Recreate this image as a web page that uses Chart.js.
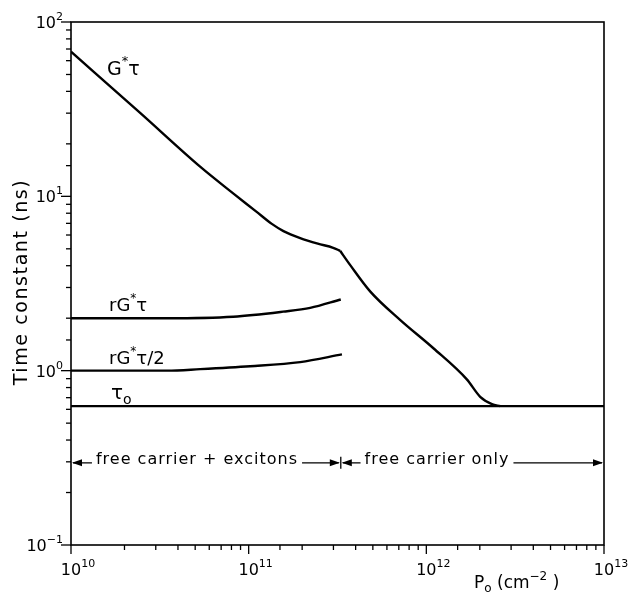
<!DOCTYPE html>
<html>
<head>
<meta charset="utf-8">
<script src="https://cdn.jsdelivr.net/npm/chart.js@4.4.1/dist/chart.umd.min.js"></script>
<style>
  html, body { margin: 0; padding: 0; background: #fff; }
</style>
</head>
<body>
<canvas id="chart" width="629" height="601"></canvas>
<script>
// values (x = P0 in cm^-2, y = time constant in ns)
// G*tau, up to the kink where the excitons stop
const gtauX = [1e10, 2.45e10, 5.33e10, 8.18e10, 1.10e11, 1.35e11, 1.57e11, 1.95e11, 2.45e11, 2.99e11, 3.27e11];
const gtauY = [67.6, 30.1, 14.8, 10.4, 8.2, 6.95, 6.32, 5.76, 5.35, 5.07, 4.87];
// G*tau, free carrier branch after the kink
const gtauHiX = [3.27e11, 3.73e11, 4.84e11, 7.14e11, 1.10e12, 1.69e12, 2.01e12, 2.34e12, 2.61e12];
const gtauHiY = [4.87, 4.03, 2.84, 1.95, 1.34, 0.891, 0.708, 0.643, 0.626];

const rgtauX = [1e10, 3.48e10, 8.18e10, 1.56e11, 2.22e11, 3.30e11];
const rgtauY = [2.0, 2.0, 2.04, 2.18, 2.29, 2.56];

const rgtau2X = [1e10, 3.48e10, 5.33e10, 1.02e11, 1.95e11, 3.35e11];
const rgtau2Y = [1.0, 1.0, 1.02, 1.06, 1.12, 1.24];

const tau0X = [1e10, 1e13];
const tau0Y = [0.626, 0.626];

const xTickExp = ['10', '11', '12', '13'];
const yTickExp = ['2', '1', '0', '\u22121'];

const regionLabels = ['free carrier + excitons', 'free carrier only'];
const regionBoundary = 3.3e11;   // where exciton curves end
const regionLevel = 0.3;         // height of the arrow line

const FONT = '"DejaVu Sans", sans-serif';

function pts(xs, ys) {
    return xs.map((v, i) => ({ x: v, y: ys[i] }));
}

// draws text made of pieces: [text, ''|'sup'|'sub']
function richText(ctx, parts, x, y, size, align) {
    const small = Math.round(size * 0.68);
    let w = 0;
    parts.forEach(p => {
        ctx.font = (p[1] ? small : size) + 'px ' + FONT;
        w += ctx.measureText(p[0]).width;
    });
    let cx = align === 'right' ? x - w : align === 'center' ? x - w / 2 : x;
    ctx.textAlign = 'left';
    ctx.textBaseline = 'middle';
    parts.forEach(p => {
        ctx.font = (p[1] ? small : size) + 'px ' + FONT;
        let dy = p[1] === 'sup' ? -size * 0.42 : p[1] === 'sub' ? size * 0.3 : 0;
        ctx.fillText(p[0], cx, y + dy);
        cx += ctx.measureText(p[0]).width;
    });
    return w;
}

function arrowHead(ctx, x, y, dir) {
    ctx.beginPath();
    ctx.moveTo(x, y);
    ctx.lineTo(x - dir * 10, y - 3.5);
    ctx.lineTo(x - dir * 10, y + 3.5);
    ctx.closePath();
    ctx.fill();
}

const decor = {
    id: 'decor',
    afterDraw(chart) {
        const { ctx, chartArea: a, scales: { x, y } } = chart;
        ctx.save();
        ctx.strokeStyle = '#000';
        ctx.fillStyle = '#000';
        ctx.lineWidth = 1.6;
        ctx.strokeRect(a.left, a.top, a.right - a.left, a.bottom - a.top);

        // tick marks, outside the frame
        ctx.lineWidth = 1.3;
        const isMajor = v => Math.abs(Math.log10(v) - Math.round(Math.log10(v))) < 1e-6;
        x.ticks.forEach(t => {
            if (t.value < x.min || t.value > x.max) return;
            const px = x.getPixelForValue(t.value);
            ctx.beginPath();
            ctx.moveTo(px, a.bottom);
            ctx.lineTo(px, a.bottom + (isMajor(t.value) ? 9 : 5));
            ctx.stroke();
        });
        y.ticks.forEach(t => {
            if (t.value < y.min || t.value > y.max) return;
            const py = y.getPixelForValue(t.value);
            ctx.beginPath();
            ctx.moveTo(a.left, py);
            ctx.lineTo(a.left - (isMajor(t.value) ? 10 : 5), py);
            ctx.stroke();
        });

        // tick labels
        xTickExp.forEach(e => {
            const px = x.getPixelForValue(Math.pow(10, +e));
            ctx.font = '16px ' + FONT;
            const wb = ctx.measureText('10').width;
            richText(ctx, [['10', ''], [e, 'sup']], px - wb / 2, a.bottom + 26, 16, 'left');
        });
        yTickExp.forEach(e => {
            const py = y.getPixelForValue(Math.pow(10, +e.replace('\u2212', '-')));
            richText(ctx, [['10', ''], [e, 'sup']], a.left - 8, py + 2, 16, 'right');
        });

        // axis titles
        richText(ctx, [['P', ''], ['o', 'sub'], [' (cm', ''], ['\u22122', 'sup'], [' )', '']], 474, 584, 17, 'left');
        ctx.save();
        ctx.translate(22, 282);
        ctx.rotate(-Math.PI / 2);
        ctx.font = '19px ' + FONT;
        ctx.letterSpacing = '1.6px';
        ctx.textAlign = 'center';
        ctx.textBaseline = 'middle';
        ctx.fillText('Time constant (ns)', 0, 0);
        ctx.restore();

        // curve labels
        richText(ctx, [['G', ''], ['*', 'sup'], ['\u03c4', '']], 107, 70, 19, 'left');
        richText(ctx, [['rG', ''], ['*', 'sup'], ['\u03c4', '']], 109, 306, 18, 'left');
        richText(ctx, [['rG', ''], ['*', 'sup'], ['\u03c4/2', '']], 109, 359, 18, 'left');
        richText(ctx, [['\u03c4', ''], ['o', 'sub']], 111, 394, 20, 'left');

        // region arrows
        const ay = y.getPixelForValue(regionLevel) + 1;
        const bx = x.getPixelForValue(regionBoundary);
        const segs = [[a.left, bx], [bx, a.right]];
        const textMid = [197, 437];
        ctx.lineWidth = 1.3;
        ctx.beginPath();
        ctx.moveTo(bx, ay - 6);
        ctx.lineTo(bx, ay + 6);
        ctx.stroke();
        ctx.font = '16px ' + FONT;
        ctx.letterSpacing = '1px';
        segs.forEach((s, i) => {
            const tw = ctx.measureText(regionLabels[i]).width;
            const mid = textMid[i];
            const t0 = mid - tw / 2 - 4, t1 = mid + tw / 2 + 4;
            ctx.beginPath();
            ctx.moveTo(s[0] + 2, ay); ctx.lineTo(t0, ay);
            ctx.moveTo(t1, ay); ctx.lineTo(s[1] - 2, ay);
            ctx.stroke();
            arrowHead(ctx, s[0] + 1, ay, -1);
            arrowHead(ctx, s[1] - 1, ay, 1);
            ctx.textAlign = 'center';
            ctx.textBaseline = 'middle';
            ctx.fillText(regionLabels[i], mid, ay - 3);
        });
        ctx.restore();
    }
};

const lineStyle = {
    borderColor: '#000',
    borderWidth: 2.4,
    pointRadius: 0,
    cubicInterpolationMode: 'monotone',
    fill: false
};

new Chart(document.getElementById('chart'), {
    type: 'line',
    data: {
        datasets: [
            { label: 'G*tau', data: pts(gtauX, gtauY), ...lineStyle },
            { label: 'G*tau free', data: pts(gtauHiX, gtauHiY), ...lineStyle },
            { label: 'rG*tau', data: pts(rgtauX, rgtauY), ...lineStyle },
            { label: 'rG*tau/2', data: pts(rgtau2X, rgtau2Y), ...lineStyle },
            { label: 'tau0', data: pts(tau0X, tau0Y), ...lineStyle }
        ]
    },
    options: {
        responsive: false,
        animation: false,
        layout: { padding: { top: 22, right: 25, left: 0, bottom: 0 } },
        plugins: { legend: { display: false }, tooltip: { enabled: false } },
        scales: {
            x: {
                type: 'logarithmic',
                min: 1e10,
                max: 1e13,
                grid: { display: false },
                border: { display: false },
                ticks: { display: false },
                afterFit: s => { s.height = 56; }
            },
            y: {
                type: 'logarithmic',
                min: 0.1,
                max: 100,
                grid: { display: false },
                border: { display: false },
                ticks: { display: false },
                afterFit: s => { s.width = 71; }
            }
        }
    },
    plugins: [decor]
});
</script>
</body>
</html>
